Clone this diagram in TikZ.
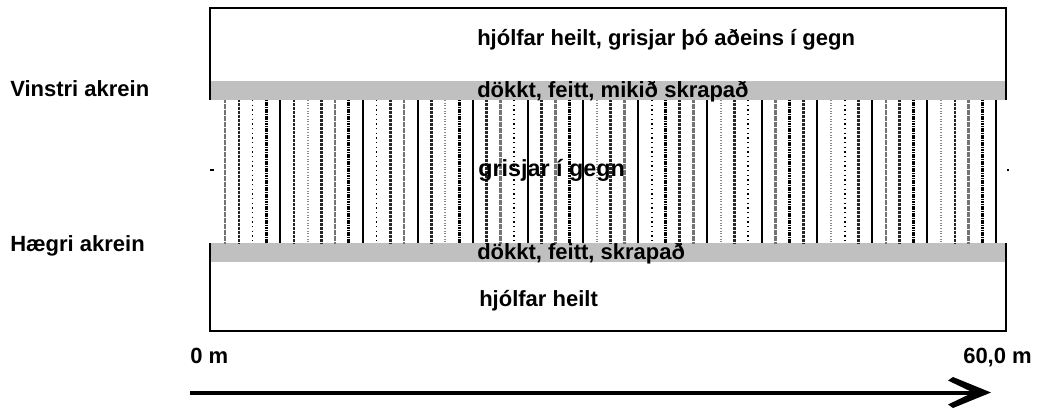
\documentclass[tikz,border=0pt]{standalone}
\usepackage{fontspec}
\setmainfont{Liberation Sans}
\definecolor{bandgray}{RGB}{192,192,192}
\tikzset{
  lbl/.style={font=\bfseries\fontsize{16.5}{18}\selectfont, inner sep=0pt, anchor=base west},
  biglbl/.style={font=\bfseries\fontsize{17.5}{19}\selectfont, inner sep=0pt, anchor=base west},
  frame/.style={draw=black, line width=1.1pt},
  lS/.style={draw=black, line width=1.4pt},
  lG/.style={draw=black!55, line width=2pt, dash pattern=on 0.5pt off 0.4pt},
  lD/.style={draw=black!85, line width=1.9pt, dash pattern=on 0.6pt off 0.4pt},
  lK/.style={draw=black, line width=2.2pt, dash pattern=on 0.9pt off 0.4pt},
  lT/.style={draw=black, line width=1.4pt, dash pattern=on 1pt off 2.5pt},
  lL/.style={draw=black!45, line width=1.6pt, dash pattern=on 0.8pt off 1.2pt},
}
\begin{document}
\begin{tikzpicture}[x=0.75pt,y=-0.75pt]
\useasboundingbox (0,0) rectangle (1037,408);
% gray bands
\fill[bandgray] (210,81) rectangle (1006,100);
\fill[bandgray] (210,243) rectangle (1006,262);
% frame parts
\draw[frame] (210,100) -- (210,8) -- (1006,8) -- (1006,100);
\draw[frame] (210,243) -- (210,331) -- (1006,331) -- (1006,243);
\fill (210,169) rectangle (214,171);
\fill (1007,169) rectangle (1009,171);
% vertical lines
\foreach \s [count=\i from 0] in {lG,lD,lT,lK,lS,lD,lL,lD,lG,lK,lS,lT,lD,lG,lS,lD,lL,lK,lS,lD,lG,lT,lS,lD,lG,lK,lS,lL,lD,lG,lS,lT,lK,lD,lG,lS,lL,lD,lT,lS,lG,lK,lD,lS,lL,lT,lD,lS,lG,lD,lK,lS,lL,lD,lG,lK,lS}{
  \draw[\s] ({225+\i*13.77},100) -- ({225+\i*13.77},243);
}
% texts
\node[lbl] (vin) at (10,96) {Vinstri akrein};
\node[lbl] (hae) at (10,251) {Hægri akrein};
\node[lbl] (t1) at (477,45) {hjólfar heilt, grisjar þó aðeins í gegn};
\node[lbl] (t2) at (477,97) {dökkt, feitt, mikið skrapað};
\node[biglbl] (t3) at (478,176) {grisjar í gegn};
\node[lbl] (t4) at (477,259) {dökkt, feitt, skrapað};
\node[lbl] (t5) at (479,306) {hjólfar heilt};
\node[lbl] (m0) at (190,363) {0 m};
\node[lbl] (m60) at (963,363) {60,0 m};
% arrow
\coordinate (as) at (190,393);
\coordinate (ae) at (975,393);
\draw[line width=2.6pt] (as) -- (ae);
\fill (991,392.5) -- (953,377) -- (948,380.5) -- (973,392.5) -- (948,404.5) -- (953,408) -- cycle;
\end{tikzpicture}
\end{document}
